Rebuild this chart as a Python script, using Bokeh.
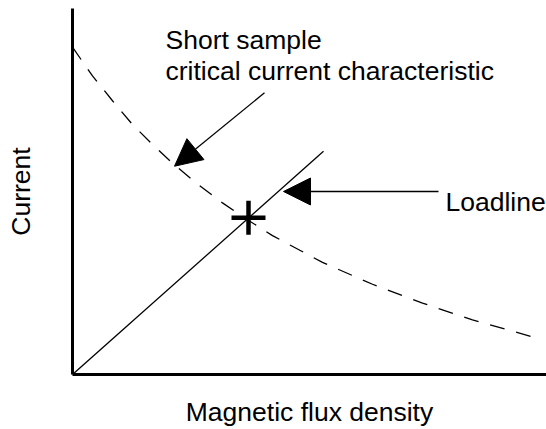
from bokeh.plotting import figure
from bokeh.models import Range1d, FixedTicker, Label, Arrow, NormalHead
from bokeh.embed import file_html
from bokeh.resources import INLINE

# ---- data (arbitrary units) ----
crit_b = [0.0, 0.2, 0.4, 0.6, 0.8, 1.0, 1.25, 1.5, 1.75, 2.0, 2.5, 3.0, 3.5, 4.0, 4.6]
crit_i = [3.30, 3.01, 2.76, 2.52, 2.32, 2.13, 1.92, 1.73, 1.56, 1.40, 1.13, 0.91, 0.72, 0.55, 0.38]
load_b = [0.0, 2.51]
load_i = [0.0, 2.25]
op_b = [1.76]
op_i = [1.58]

x_label = "Magnetic flux density"
y_label = "Current"
crit_label = ["Short sample", "critical current characteristic"]
load_label = "Loadline"

FONT = "Liberation Sans"
FS = "26.5px"

p = figure(width=546, height=429, output_backend="svg", toolbar_location=None,
           x_range=Range1d(0, 4.74), y_range=Range1d(0, 3.69),
           min_border_left=72, min_border_right=0, min_border_top=8, min_border_bottom=52)
p.outline_line_color = None
p.grid.visible = False
p.background_fill_color = "white"
p.border_fill_color = "white"

for ax in (p.xaxis[0], p.yaxis[0]):
    ax.ticker = FixedTicker(ticks=[])
    ax.major_tick_out = 0
    ax.major_tick_in = 0
    ax.minor_tick_out = 0
    ax.minor_tick_in = 0
    ax.major_label_standoff = 0
    ax.major_label_text_font_size = "0px"
    ax.axis_line_width = 3
    ax.axis_line_color = "black"
    ax.axis_label_text_font = FONT
    ax.axis_label_text_font_size = FS
    ax.axis_label_text_font_style = "normal"
    ax.axis_label_text_color = "black"

p.xaxis.axis_label = x_label
p.yaxis.axis_label = y_label
p.xaxis.axis_label_standoff = 22
p.yaxis.axis_label_standoff = 37

# critical current curve (dashed)
p.line(crit_b, crit_i, line_color="black", line_width=1.3, line_dash="15 12")
# load line
p.line(load_b, load_i, line_color="black", line_width=1.3)
# operating point
p.scatter(op_b, op_i, marker="cross", size=34, line_width=4.5, line_color="black")

# annotation texts
p.add_layout(Label(x=0.93, y=3.37, text=crit_label[0], text_font=FONT, text_font_size=FS,
                   text_color="black", text_baseline="alphabetic"))
p.add_layout(Label(x=0.93, y=3.06, text=crit_label[1], text_font=FONT, text_font_size=FS,
                   text_color="black", text_baseline="alphabetic"))
p.add_layout(Label(x=3.73, y=1.74, text=load_label, text_font=FONT, text_font_size=FS,
                   text_color="black", text_baseline="alphabetic"))

# arrows
p.add_layout(Arrow(end=NormalHead(size=27, fill_color="black", line_color="black"),
                   x_start=1.92, y_start=2.84, x_end=1.02, y_end=2.10,
                   line_color="black", line_width=1.3))
p.add_layout(Arrow(end=NormalHead(size=27, fill_color="black", line_color="black"),
                   x_start=3.66, y_start=1.845, x_end=2.11, y_end=1.845,
                   line_color="black", line_width=1.3))

open("out.html", "w").write(file_html(p, INLINE))
